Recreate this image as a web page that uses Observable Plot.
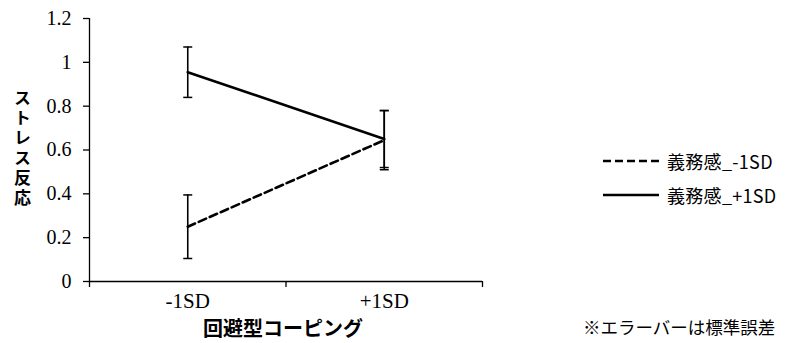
<!DOCTYPE html>
<html lang="ja">
<head>
<meta charset="utf-8">
<script src="https://cdn.jsdelivr.net/npm/d3@7"></script>
<script src="https://cdn.jsdelivr.net/npm/@observablehq/plot@0.6"></script>
<style>
  html, body { margin: 0; padding: 0; background: #fff; }
  #wrap { position: relative; width: 786px; height: 343px; overflow: hidden; }
  #chart { position: absolute; left: 0; top: 0; }
  .jp { font-family: "Noto Sans CJK JP", "Noto Sans", sans-serif; color: #000; position: absolute; white-space: nowrap; }
  #ytitle { left: 10px; top: 89px; font-size: 17px; font-weight: bold; writing-mode: vertical-rl; letter-spacing: 3px; }
  #xtitle { left: 203px; top: 317px; font-size: 20px; font-weight: bold; line-height: 22px; }
  #note { left: 583px; top: 316px; font-size: 17.5px; line-height: 22px; }
  .legend-row { position: absolute; left: 603px; height: 20px; display: flex; align-items: center; font-size: 18px; letter-spacing: 0.3px; }
  .legend-row svg { margin-right: 8px; }
  #chart svg text { font-family: 'Liberation Serif', 'Times New Roman', serif; }
  #chart .ytick text { font-size: 20px; }
  #chart .xtick text { font-size: 21px; }
</style>
</head>
<body>
<div id="wrap">
  <div id="chart"></div>
  <div id="ytitle" class="jp">ストレス反応</div>
  <div id="xtitle" class="jp">回避型コーピング</div>
  <div id="note" class="jp">※エラーバーは標準誤差</div>
  <div id="legend"></div>
</div>
<script>
// Avoidant coping level (x categories)
const xLabels = ["-1SD", "+1SD"];
// Series: sense of obligation at -1SD / +1SD
const seriesNames = ["義務感_-1SD", "義務感_+1SD"];
const seriesDash = ["8,4", null];
// Stress response means and standard errors
const meansLow = [0.25, 0.645];
const seLow = [0.145, 0.135];
const meansHigh = [0.955, 0.65];
const seHigh = [0.115, 0.13];
// Axis ticks
const yTicks = [0, 0.2, 0.4, 0.6, 0.8, 1, 1.2];
const xEdges = [0, 1, 2];

// Each category sits in the middle of its unit-wide slot on the x scale
const rows = [];
[[meansLow, seLow], [meansHigh, seHigh]].forEach(([m, se], s) => {
  xLabels.forEach((lab, i) => {
    rows.push({series: seriesNames[s], pos: i + 0.5, mean: m[i], lo: m[i] - se[i], hi: m[i] + se[i]});
  });
});

// Horizontal cap for error bars
const capSymbol = {
  draw(ctx) {
    ctx.moveTo(-4.5, 0);
    ctx.lineTo(4.5, 0);
  }
};

const chart = Plot.plot({
  width: 786,
  height: 343,
  marginLeft: 89,
  marginRight: 304,
  marginTop: 18,
  marginBottom: 62,
  style: {background: "#fff", color: "#000"},
  x: {domain: [0, 2], axis: null},
  y: {domain: [0, 1.2], axis: null},
  marks: [
    Plot.ruleX([0], {stroke: "#000", strokeWidth: 1.3}),
    Plot.ruleY([0], {stroke: "#000", strokeWidth: 1.3}),
    Plot.axisY({
      ticks: yTicks,
      tickSize: 6,
      tickPadding: 12,
      tickFormat: d => String(+d.toFixed(1)),
      label: null,
      className: "ytick",
      strokeWidth: 1.3
    }),
    Plot.axisX({
      ticks: xEdges,
      tickSize: 6,
      tickFormat: () => "",
      label: null,
      strokeWidth: 1.3
    }),
    Plot.axisX({
      ticks: xLabels.map((_, i) => i + 0.5),
      tickSize: 0,
      tickPadding: 12,
      tickFormat: d => xLabels[Math.floor(d)],
      label: null,
      className: "xtick"
    }),
    // Mean lines
    ...seriesNames.map((name, s) =>
      Plot.line(rows.filter(r => r.series === name), {
        x: "pos", y: "mean",
        stroke: "#000", strokeWidth: 2.6,
        strokeDasharray: seriesDash[s]
      })
    ),
    // Error bars
    Plot.ruleX(rows, {x: "pos", y1: "lo", y2: "hi", stroke: "#000", strokeWidth: 1.6}),
    Plot.dot(rows, {x: "pos", y: "hi", symbol: capSymbol, stroke: "#000", fill: "none", strokeWidth: 1.5}),
    Plot.dot(rows, {x: "pos", y: "lo", symbol: capSymbol, stroke: "#000", fill: "none", strokeWidth: 1.5})
  ]
});
document.getElementById("chart").appendChild(chart);

// Legend
const legend = document.getElementById("legend");
seriesNames.forEach((name, s) => {
  const row = document.createElement("div");
  row.className = "legend-row jp";
  row.style.top = (151 + s * 34) + "px";
  const dash = seriesDash[s] ? `stroke-dasharray="${seriesDash[s].replace(",", " ")}"` : "";
  row.innerHTML = `<svg width="56" height="6"><line x1="0" y1="3" x2="56" y2="3" stroke="#000" stroke-width="2.6" ${dash}/></svg><span>${name}</span>`;
  legend.appendChild(row);
});
</script>
</body>
</html>
